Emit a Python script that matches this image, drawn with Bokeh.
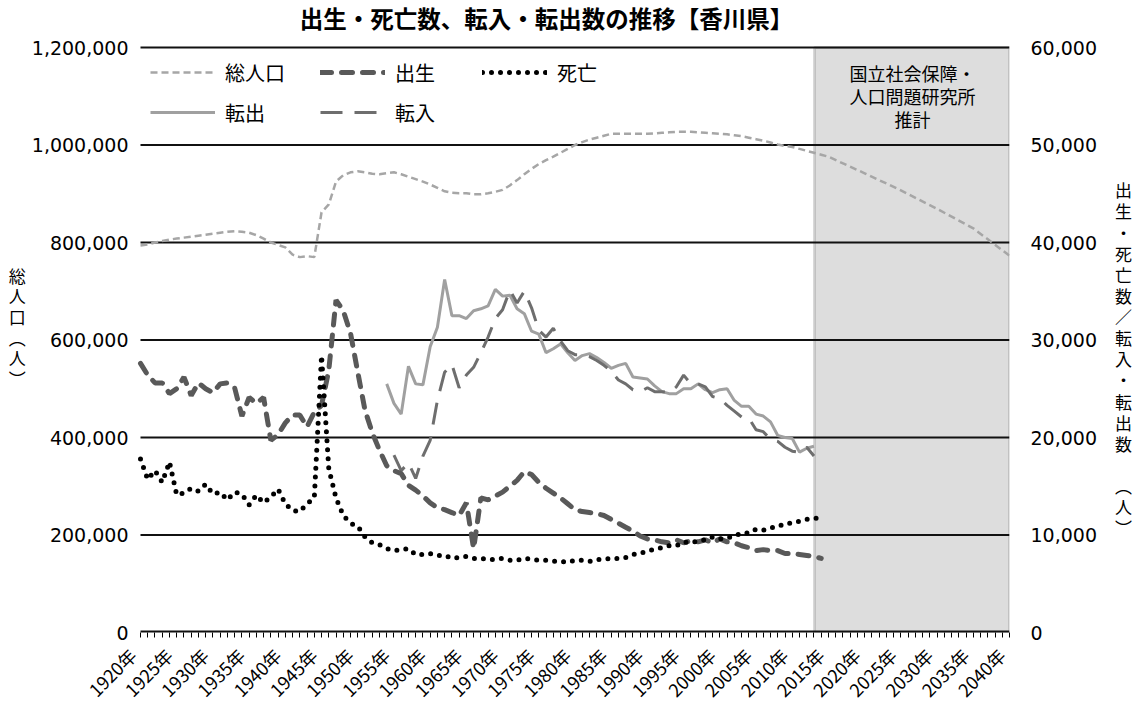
import math
from bokeh.plotting import figure
from bokeh.models import (Range1d, LinearAxis, FixedTicker, NumeralTickFormatter,
                          Legend, LegendItem, BoxAnnotation, Label)
from bokeh.embed import file_html
from bokeh.resources import INLINE

# ---------------- data ----------------
pop_years = list(range(1920, 2016)) + [2020, 2025, 2030, 2035, 2040]
population = [
    794000, 796000, 800000, 803000, 806000, 808000, 810000, 812000, 814000, 816000,
    818000, 820000, 822000, 823000, 822000, 820000, 815000, 808000, 800000, 795000,
    790000, 775000, 770000, 772000, 770000, 862000, 878000, 925000, 938000, 944000,
    946000, 944000, 941000, 940000, 942000, 944000, 940000, 935000, 930000, 925000,
    919000, 912000, 905000, 902000, 901000, 901000, 899000, 899000, 901000, 904000,
    908000, 917000, 928000, 940000, 951000, 961000, 969000, 976000, 984000, 992000,
    1000000, 1006000, 1011000, 1015000, 1019000, 1023000, 1023000, 1023000, 1023000, 1023000,
    1023000, 1024000, 1025000, 1026000, 1027000, 1027000, 1027000, 1026000, 1025000, 1024000,
    1023000, 1022000, 1020000, 1018000, 1015000, 1012000, 1009000, 1005000, 1001000, 998000,
    996000, 992000, 988000, 984000, 980000, 976000,
    942000, 907000, 869000, 829000, 773000]

vital_years = list(range(1920, 2015))
births = [
    27600, 26400, 25600, 25600, 24500, 25000, 26200, 24300, 25600, 25000,
    24600, 25500, 25600, 25100, 22200, 24100, 23500, 24100, 19700, 20300,
    21500, 22300, 22300, 21100, 22600, 23300, 26900, 34100, 33000, 30700,
    26700, 22800, 20500, 18700, 17100, 16600, 16300, 15100, 14600, 14000,
    13300, 12800, 12600, 12300, 12000, 13300, 8600, 13800, 13600, 14000,
    14400, 15000, 15600, 16500, 16200, 15400, 14800, 14300, 13800, 13200,
    12600, 12400, 12300, 12200, 12000, 11600, 11200, 10800, 10400, 9900,
    9600, 9500, 9300, 9200, 9500, 9200, 9400, 9300, 9500, 9200,
    9600, 9300, 9200, 8900, 8700, 8400, 8500, 8400, 8400, 8100,
    8100, 8000, 7900, 7800, 7600]
deaths = [
    17800, 15700, 16600, 15400, 17500, 14100, 14300, 14800, 14500, 15200,
    14200, 14400, 13600, 14400, 14200, 13100, 14100, 13300, 13900, 14700,
    13200, 12500, 12400, 13200, 13800, 28400, 16800, 13800, 12000, 11200,
    10900, 9800, 9200, 9000, 8600, 8400, 8500, 8600, 8000, 8000,
    8100, 7900, 7900, 7600, 7700, 7800, 7600, 7600, 7500, 7500,
    7600, 7400, 7400, 7600, 7500, 7400, 7400, 7300, 7300, 7200,
    7400, 7400, 7300, 7500, 7500, 7600, 7600, 7700, 8000, 8100,
    8400, 8500, 8700, 8900, 8900, 9300, 9200, 9400, 9500, 9800,
    9600, 9700, 9900, 10200, 10200, 10600, 10500, 10700, 11000, 11000,
    11300, 11400, 11600, 11700, 11800]

out_years = list(range(1954, 2014))
moved_out = [
    25500, 23500, 22400, 27300, 25500, 25400, 29300, 31300, 36200, 32500,
    32500, 32200, 33000, 33200, 33500, 35200, 34500, 34600, 33200, 32700,
    30900, 30600, 28700, 29100, 29600, 28700, 27900, 28400, 28600, 28200,
    27700, 27100, 27400, 27600, 26200, 26100, 26000, 25300, 24700, 24500,
    24500, 25000, 25000, 25500, 24900, 24600, 24900, 25000, 23800, 23200,
    23200, 22400, 22200, 21600, 20200, 20000, 19900, 18500, 18900, 19100]

in_years = list(range(1955, 2014))
moved_in = [
    18200, 16600, 17400, 15800, 18100, 19700, 23800, 26700, 27500, 25100,
    26400, 27200, 28700, 30300, 32200, 33100, 35100, 33800, 35000, 33300,
    31000, 30300, 31200, 29900, 28900, 28500, 28500, 28300, 27900, 27400,
    26800, 25900, 25500, 24900, 24700, 25100, 24700, 24700, 24600, 25200,
    26400, 25500, 25500, 25200, 24200, 24000, 23300, 22700, 22100, 22000,
    20800, 20600, 19800, 19600, 19000, 18600, 18500, 19000, 18100]

label_years = list(range(1920, 2041, 5))
left_ticks = [0, 200000, 400000, 600000, 800000, 1000000, 1200000]
right_ticks = [0, 10000, 20000, 30000, 40000, 50000, 60000]

title_text = "出生・死亡数、転入・転出数の推移【香川県】"
box_lines = ["国立社会保障・", "人口問題研究所", "推計"]
left_label = ["総", "人", "口", "︵", "人", "︶"]
right_label = ["出", "生", "・", "死", "亡", "数", "／", "転", "入", "・", "転", "出",
               "数", "︵", "人", "︶"]

# ---------------- figure ----------------
JP = "Noto Sans CJK JP"
NUM = "DejaVu Sans"

X0, X1 = 1920, 2040
LMAX, RMAX = 1200000, 60000
FL, FT, FW, FH = 140, 47, 869, 585      # plot area (1920..2040, 0..1.2M) in page px
YR = (X1 - X0) / FW                     # years per pixel
PAD = 8                                  # room left of 1920 for the first label
XS = X0 - PAD * YR
BOTTOM = FT + FH                         # page y of the value 0
TOPV = LMAX * BOTTOM / FH                # frame reaches the top of the page


def px2x(px):
    return X0 + (px - FL) * YR


def py2y(py):
    return (BOTTOM - py) * LMAX / FH


p = figure(frame_width=FW + PAD, frame_height=BOTTOM,
           x_range=Range1d(XS, X1), y_range=Range1d(0, TOPV),
           output_backend="svg", toolbar_location=None,
           min_border_left=FL - PAD, min_border_right=1137 - FL - FW,
           min_border_top=0, min_border_bottom=70,
           outline_line_color=None, background_fill_color="white",
           border_fill_color="white")
p.extra_y_ranges = {"r": Range1d(0, RMAX * BOTTOM / FH)}

# shaded projection box (under the grid)
box = BoxAnnotation(left=px2x(814), right=X1, bottom=0, top=LMAX,
                    fill_color="#DDDDDD", fill_alpha=1.0,
                    line_color="#808080", line_width=3, level="image")
p.add_layout(box)

# horizontal grid lines spanning the plot area (1920..2040)
p.xgrid.visible = False
p.ygrid.visible = False
n = len(left_ticks)
p.segment(x0=[X0] * n, x1=[X1] * n, y0=left_ticks, y1=left_ticks,
          line_color="#111111",
          line_width=[4 if t == 0 else 2 for t in left_ticks],
          level="underlay")

# x axis: a tick mark each year; rotated labels anchored like the original
label_pos = [round(t - PAD * YR, 4) for t in label_years]
xa = p.xaxis[0]
xa.ticker = FixedTicker(ticks=label_pos, minor_ticks=list(range(1920, 2041)))
xa.major_label_overrides = {pos: f"{t}年" for pos, t in zip(label_pos, label_years)}
xa.major_label_orientation = math.pi / 4
xa.major_label_text_font = JP
xa.major_label_text_font_size = "18px"
xa.major_label_text_color = "black"
xa.axis_line_color = None
xa.major_tick_in = 0
xa.major_tick_out = 5
xa.major_tick_line_color = None
xa.minor_tick_in = 0
xa.minor_tick_out = 5
xa.minor_tick_line_color = "black"
xa.major_label_standoff = 14

# left axis
ya = p.yaxis[0]
ya.ticker = FixedTicker(ticks=left_ticks)
ya.formatter = NumeralTickFormatter(format="0,0")
ya.axis_line_color = None
ya.major_tick_line_color = None
ya.minor_tick_line_color = None
ya.major_tick_out = 0
ya.major_tick_in = 0
ya.major_label_text_font = NUM
ya.major_label_text_font_size = "19px"
ya.major_label_text_color = "black"
ya.major_label_standoff = 12 - PAD
ya.axis_label = "\n".join(["\u3000"] + left_label)
ya.axis_label_text_font = JP
ya.axis_label_text_font_size = "17px"
ya.axis_label_text_font_style = "normal"
ya.axis_label_text_color = "black"
ya.axis_label_text_line_height = 0.823
ya.axis_label_standoff = 3
try:
    ya.axis_label_orientation = "horizontal"
except Exception:
    pass

# right axis
ra = LinearAxis(y_range_name="r", ticker=FixedTicker(ticks=right_ticks),
                formatter=NumeralTickFormatter(format="0,0"))
ra.axis_line_color = None
ra.major_tick_line_color = None
ra.minor_tick_line_color = None
ra.major_tick_out = 0
ra.major_tick_in = 0
ra.major_label_text_font = NUM
ra.major_label_text_font_size = "19px"
ra.major_label_text_color = "black"
ra.major_label_standoff = 21
rl = ["\u3000"] * 4 + right_label[:13] + ["\u3000"] + right_label[13:]
ra.axis_label = "\n".join(rl)
ra.axis_label_text_font = JP
ra.axis_label_text_font_size = "17px"
ra.axis_label_text_font_style = "normal"
ra.axis_label_text_color = "black"
ra.axis_label_text_line_height = 0.845
ra.axis_label_standoff = 15
try:
    ra.axis_label_orientation = "horizontal"
except Exception:
    pass
p.add_layout(ra, "right")

# ---------------- series ----------------
r_pop = p.line(pop_years, population, line_color="#A6A6A6", line_width=2.5,
               line_dash="7 4")
r_out = p.line(out_years, moved_out, y_range_name="r", line_color="#A0A0A0",
               line_width=3)
r_in = p.line(in_years, moved_in, y_range_name="r", line_color="#6E6E6E",
              line_width=3, line_dash="22 12")
r_birth = p.line(vital_years, births, y_range_name="r", line_color="#595959",
                 line_width=5, line_dash="11 10", line_cap="round")
r_death = p.line(vital_years, deaths, y_range_name="r", line_color="black",
                 line_width=5, line_dash="0 9", line_cap="round")


def make_legend(items, loc):
    lg = Legend(items=items, location=loc, orientation="vertical",
                glyph_width=65, glyph_height=30, label_standoff=10, spacing=10,
                padding=10, margin=0, border_line_color=None,
                background_fill_color="white", background_fill_alpha=1.0,
                label_text_font=JP, label_text_font_size="20px",
                label_text_color="black")
    p.add_layout(lg)


make_legend([LegendItem(label="総人口", renderers=[r_pop]),
             LegendItem(label="転出", renderers=[r_out])], (10 + PAD, FH - 80))
make_legend([LegendItem(label="出生", renderers=[r_birth]),
             LegendItem(label="転入", renderers=[r_in])], (180 + PAD, FH - 80))
make_legend([LegendItem(label="死亡", renderers=[r_death])], (342 + PAD, FH - 40))

# ---------------- texts inside the frame ----------------
p.add_layout(Label(x=px2x(546), y=py2y(17), text=title_text, text_font=JP,
                   text_font_size="23.5px", text_font_style="bold",
                   text_align="center", text_baseline="middle", text_color="black"))

for txt, py in zip(box_lines, [72, 95, 118]):
    p.add_layout(Label(x=px2x(912), y=py2y(py), text=txt, text_font=JP,
                       text_font_size="18px", text_align="center",
                       text_baseline="middle", text_color="black"))

open("out.html", "w").write(file_html(p, INLINE))
